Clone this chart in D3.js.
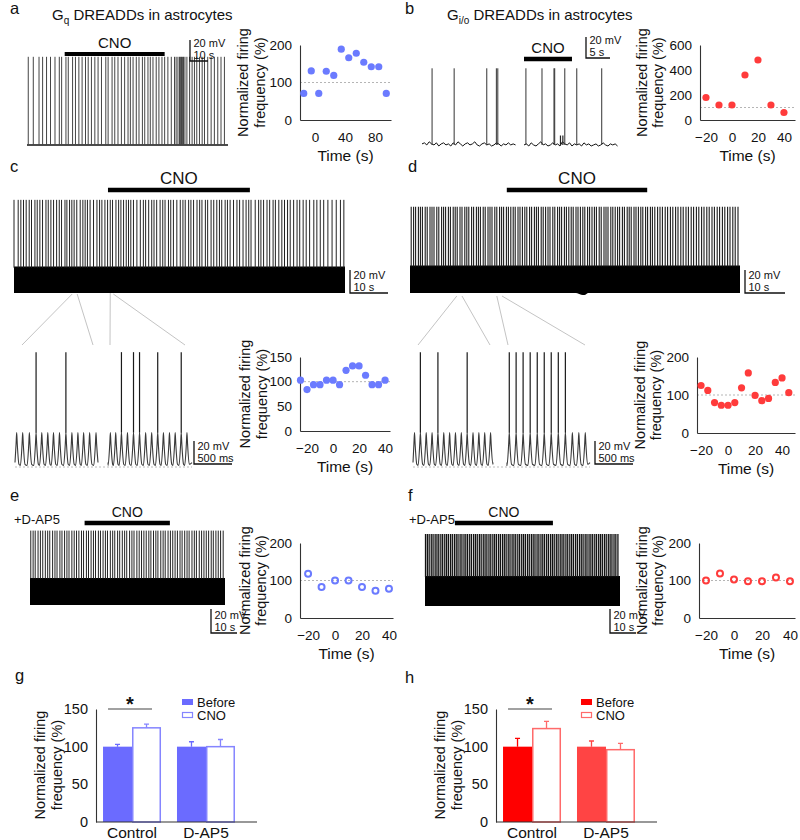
<!DOCTYPE html>
<html><head><meta charset="utf-8">
<script src="https://cdn.jsdelivr.net/npm/d3@7"></script>
<style>body{margin:0;background:#fff} text{font-family:"Liberation Sans",Arial,sans-serif;fill:#111}</style>
</head><body><script>
// ===================== DATA =====================
// scatter panels: time (s) and normalized firing frequency (%)
const aTimes = [-15,-5,5,15,25,35,45,55,65,75,85,95];
const aFreq  = [71,131,71,130,119,189,166,178,154,142,142,71];
const bTimes = [-20,-10,0,10,20,30,40];
const bFreq  = [180,120,120,360,480,120,60];
const cTimes = [-25,-20,-15,-10,-5,0,5,10,15,20,25,30,35,40];
const cFreq  = [103,84,94,94,103,103,94,123,132,132,113,94,94,103];
const dTimes = [-20,-15,-10,-5,0,5,10,15,20,25,30,35,40,45];
const dFreq  = [125,112,80,73,73,80,119,158,99,85,91,133,145,106];
const eTimes = [-20,-10,0,10,20,30,40];
const eFreq  = [118,83,100,100,83,73,78];
const fTimes = [-20,-10,0,10,20,30,40];
const fFreq  = [100,119,103,98,98,108,98];

// bar panels
const barCats = ["Control","D-AP5"];
const barKeys = ["Before","CNO"];
const gBefore = [100,100], gBeforeErr = [3,6.5];
const gCNO    = [125,100], gCNOErr    = [5,9.5];
const hBefore = [100,100], hBeforeErr = [11,7.5];
const hCNO    = [124,96],  hCNOErr    = [9.5,8.5];

// traces: spike times (s)
const aSpikes = [0.7,3.5,6.7,8.7,10.9,13.1,15.6,18.0,19.3,21.7,23.0,25.4,27.0,28.9,30.7,32.6,34.1,35.9,37.8,39.6,41.5,43.9,45.2,47.4,48.9,50.7,52.6,54.4,56.3,57.6,59.1,60.9,62.4,64.3,65.6,67.4,68.7,70.2,72.0,73.5,75.2,76.7,78.5,80.4,82.2,83.1,84.1,85.0,85.6,86.1,86.7,87.2,88.0,89.1,90.6,92.0,93.3,94.6,96.1,97.6,98.9,100.7,102.6,104.4,106.3,108.1,110.0];
const bSpikes1 = [2.1,6.7,13.5,15.5,15.8];
const bSpikes2 = [0.4,3.75,6.25,6.4,8.5,11.0,16.2];
const bSmall2 = [7.6,8.1];
const bNoise1 = [2,3,1,4,2,1,3,0,2,3,1,2,0,3,1,4,2,0,2,3,1,2,4,1,0,2,3,1,2,0,1,3,2,0,2,1,3,1,2,1];
const bNoise2 = [1,2,0,3,1,0,2,4,1,2,0,1,3,1,2,0,4,2,1,3,0,2,1,2,0,3,1,2,0,1,2,0,1,3,1,0,2,1,2,0];
const cSpikes = [0,1.1,1.8,2.5,3.2,4.0,4.6,5.5,6.1,6.8,7.5,8.4,9.0,9.7,10.4,11.2,11.9,12.5,13.4,13.9,14.6,15.2,15.8,16.5,17.4,18.1,18.7,19.3,20.0,20.9,21.8,22.5,23.1,23.9,24.6,25.3,25.9,26.8,27.5,28.1,28.8,29.5,30.1,30.7,31.4,32.3,33.2,34.0,34.6,35.4,36.2,36.8,37.5,38.4,39.1,39.7,40.6,41.2,41.9,42.8,43.7,44.4,45.0,45.9,46.5,47.2,48.1,48.8,49.4,50.3,50.9,51.8,52.5,53.3,54.0,54.6,55.5,56.1,56.8,57.7,58.6,59.3,60.2,61.0,61.7,62.3,63.4,64.3,64.9,65.6,66.5,67.2,68.1,68.7,69.6,70.4,71.1,71.9,72.6,73.5,74.4,75.1,76.0,76.8,77.7,78.8,79.6,80.5,81.4,82.5,83.6,84.7,85.8,86.7];
const dSpikes = [0.3,0.9,1.4,2.1,2.6,3.1,3.8,4.3,5.0,5.5,6.0,6.7,7.2,7.9,8.4,8.9,9.6,10.1,10.8,11.3,11.8,12.5,13.0,13.7,14.2,14.7,15.4,15.9,16.6,17.1,17.6,18.3,18.8,19.5,20.0,20.5,21.2,21.7,22.4,22.9,23.4,24.1,24.6,25.2,25.8,26.3,27.0,27.5,28.1,28.7,29.2,29.9,30.4,31.1,31.6,32.1,32.8,33.3,33.9,34.5,35.0,35.7,36.2,36.9,37.4,37.9,38.6,39.1,39.7,40.3,40.8,41.5,42.0,42.6,43.2,43.7,44.4,44.9,45.5,46.1,46.6,47.3,47.8,48.5,49.0,49.5,50.2,50.7,51.3,51.9,52.4,53.1,53.6,54.3,54.8,55.3,56.0,56.5,57.1,57.7,58.2,58.9,59.4,60.1,60.6,61.2,61.9,62.5,63.1,63.8,64.4,65.1,65.7,66.4,67.0,67.7,68.3,69.0,69.6,70.3,70.9,71.6,72.2,72.9,73.5,74.2,74.8,75.5,76.1,76.8,77.4,78.1,78.7,79.4,80.0,80.7,81.3,82.0];
const dBandLow = [[0,0],[41.5,0],[42.8,-1.5],[43.6,-1.8],[44.6,0],[82.5,0]];
const eSpikes = [0.3,1.2,2.0,3.1,4.0,4.9,5.9,6.8,7.6,8.7,9.6,10.4,11.5,12.3,13.3,14.2,15.0,16.1,17.0,17.9,18.8,19.8,20.6,21.7,22.5,23.5,24.4,25.2,26.3,27.1,28.1,29.0,29.8,30.9,31.8,32.6,33.7,34.5,35.5,36.4,37.2,38.3,39.2,40.0,41.1,42.0,42.9,43.8,44.7,45.7,46.5,47.5,48.4,49.2,50.3,51.2,52.0,53.1,54.0,54.9,55.8,56.7,57.7,58.5,59.5,60.4,61.2,62.3,63.2,64.0,65.1,66.0,66.9,67.8,68.7,69.7,70.5,71.5,72.4,73.3,74.3];
const fSpikes = [0.2,0.9,1.6,2.4,3.1,3.9,4.6,5.3,6.1,6.8,7.6,8.3,9.0,9.8,10.5,11.3,12.0,12.7,13.5,14.2,15.0,15.7,16.4,17.2,17.9,18.7,19.4,20.1,20.9,21.6,22.4,23.1,23.8,24.6,25.3,26.1,26.8,27.5,28.3,29.0,29.8,30.5,31.2,32.0,32.7,33.5,34.2,34.9,35.7,36.4,37.2,37.9,38.6,39.4,40.1,40.9,41.6,42.3,43.1,43.8,44.6,45.3,46.0,46.8,47.5,48.3,49.0,49.7,50.5,51.2,52.0,52.7,53.4,54.2,54.9,55.7,56.4,57.1,57.9,58.6,59.4,60.1,60.8,61.6,62.3,63.1,63.8,64.5,65.3,66.0,66.8,67.5,68.2,69.0,69.7,70.5,71.2,71.9,72.7,73.4,74.2];

// expanded sub-traces: oscillation peak times (ms) and which peaks fire a spike
const cSub1Peaks = [22,101,189,277,352,431,506,585,669,748,827,902,981,1065];
const cSub1Spk   = [277,669];
const cSub2Peaks = [31,101,176,255,334,413,493,572,651,726,805,880,959,1034];
const cSub2Spk   = [176,334,413,651,959];
const dSub1Peaks = [20,97,174,251,328,405,482,559,636,713,790,867,944,1021];
const dSub1Spk   = [97,328,713];
const dSub2Peaks = [30,120,212,305,398,490,582,675,768,860,945,1030];
const dSub2Spk   = [30,120,212,305,398,490,582,675,768];

// tick labels
const aXT=[0,40,80], aYT=[0,100,200];
const bXT=[-20,0,20,40], bYT=[0,200,400,600];
const cXT=[-20,0,20,40], cYT=[0,50,100,150];
const dXT=[-20,0,20,40], dYT=[0,100,200];
const eXT=[-20,0,20,40], eYT=[0,100,200];
const fXT=[-20,0,20,40], fYT=[0,100,200];
const barYT=[0,50,100,150];

// ===================== DRAW =====================
const BLUE="#6b7bff", RED="#ff3b3b";
const svg=d3.select("body").append("svg").attr("width",800).attr("height",840);

function txt(x,y,s,size,anchor){
  return svg.append("text").attr("x",x).attr("y",y).attr("font-size",size).attr("text-anchor",anchor||"start").text(s);
}
function ylab(x1,x2,cy,size){
  txt(0,0,"Normalized firing",size,"middle").attr("transform",`translate(${x1},${cy}) rotate(-90)`);
  txt(0,0,"frequency (%)",size,"middle").attr("transform",`translate(${x2},${cy}) rotate(-90)`);
}
function styleAxis(g,size){
  g.select(".domain").attr("stroke","#333").attr("stroke-width",1.1);
  g.selectAll("text").attr("font-size",size).attr("font-family","Liberation Sans, Arial, sans-serif").attr("fill","#111");
}

function scatter(p){
  const x=d3.scaleLinear().domain(p.xd).range([p.ax0,p.ax1]);
  const y=d3.scaleLinear().domain(p.yd).range([p.yb,p.yt]);
  svg.append("line").attr("x1",p.ax0).attr("x2",p.ax1).attr("y1",y(100)).attr("y2",y(100))
    .attr("stroke","#b5b5b5").attr("stroke-width",1).attr("stroke-dasharray","2,2");
  const xa=svg.append("g").attr("transform",`translate(0,${p.yb})`)
    .call(d3.axisBottom(x).tickValues(p.xt).tickSize(0).tickPadding(12).tickFormat(d3.format("d")));
  styleAxis(xa,13.5);
  const ya=svg.append("g").attr("transform",`translate(${p.ax0},0)`)
    .call(d3.axisLeft(y).tickValues(p.yt2).tickSize(0).tickPadding(8));
  styleAxis(ya,13.5);
  svg.append("g").selectAll("circle").data(p.t.map((t,i)=>[t,p.v[i]])).join("circle")
    .attr("cx",d=>x(d[0])).attr("cy",d=>y(d[1])).attr("r",p.open?3:3.6)
    .attr("fill",p.open?"none":p.color).attr("stroke",p.open?p.color:"none").attr("stroke-width",2);
  ylab(p.lx1,p.lx2,(p.yb+p.yt)/2,14.5);
  txt((p.ax0+p.ax1)/2,p.yb+41,"Time (s)",15.5,"middle");
}

scatter({t:aTimes,v:aFreq,xd:[-20,101.3],ax0:300,ax1:391,yd:[0,200],yb:120,yt:45,xt:aXT,yt2:aYT,color:BLUE,lx1:248,lx2:265});
scatter({t:bTimes,v:bFreq,xd:[-24.6,48.5],ax0:700,ax1:795,yd:[0,600],yb:120,yt:45,xt:bXT,yt2:bYT,color:RED,lx1:647,lx2:663});
scatter({t:cTimes,v:cFreq,xd:[-25.4,43.8],ax0:300,ax1:390,yd:[0,150],yb:431,yt:357,xt:cXT,yt2:cYT,color:BLUE,lx1:250,lx2:267});
scatter({t:dTimes,v:dFreq,xd:[-23,49.6],ax0:697,ax1:795,yd:[0,200],yb:433,yt:357,xt:dXT,yt2:dYT,color:RED,lx1:645,lx2:661});
scatter({t:eTimes,v:eFreq,xd:[-26,43],ax0:300,ax1:393,yd:[0,200],yb:618,yt:543,xt:eXT,yt2:eYT,color:BLUE,open:true,lx1:250,lx2:266});
scatter({t:fTimes,v:fFreq,xd:[-25,43.6],ax0:699,ax1:795,yd:[0,200],yb:618,yt:543,xt:fXT,yt2:fYT,color:RED,open:true,lx1:647,lx2:663});

// ---------- traces ----------
function scaleBar(cx,cy,ySc,xSc,mv,tUnit,tLabel){
  const h=Math.abs(ySc(mv)-ySc(0)), w=Math.abs(xSc(tUnit)-xSc(0));
  svg.append("path").attr("d",`M${cx},${cy-h}V${cy}H${cx+w}`).attr("fill","none").attr("stroke","#111").attr("stroke-width",1.3);
  txt(cx+3.5,cy-14.5,mv+" mV",11);
  txt(cx+3.5,cy-2,tLabel,11);
}
function cnoBar(xS,t0,t1,y,th,ty,size){
  svg.append("line").attr("x1",xS(t0)).attr("x2",xS(t1)).attr("y1",y).attr("y2",y).attr("stroke","#000").attr("stroke-width",th);
  txt((xS(t0)+xS(t1))/2,ty,"CNO",size,"middle");
}
function spikes(xS,yS,times,from,to,color,w){
  svg.append("g").selectAll("line").data(times).join("line")
    .attr("x1",d=>xS(d)).attr("x2",d=>xS(d)).attr("y1",yS(from)).attr("y2",yS(to))
    .attr("stroke",color||"#333").attr("stroke-width",w||0.9);
}
function band(xS,yS,hi,low){
  const pts = low || [[xS.domain()[0],0],[xS.domain()[1],0]];
  const area=d3.area().x(d=>xS(d[0])).y0(d=>yS(d[1])).y1(d=>yS(hi)).curve(d3.curveMonotoneX);
  svg.append("path").attr("d",area(pts)).attr("fill","#000");
}

// a
{
  const x=d3.scaleLinear().domain([0,112]).range([27,228]);
  const y=d3.scaleLinear().domain([0,1]).range([145,145-1.05]);
  svg.append("line").attr("x1",27).attr("x2",228).attr("y1",145).attr("y2",145).attr("stroke","#111").attr("stroke-width",1.4);
  spikes(x,y,aSpikes,0,84,"#444",1);
  cnoBar(x,21,76.7,54,4,48,15);
  scaleBar(190,61,y,x,20,10,"10 s");
}
// b
{
  const y=d3.scaleLinear().domain([0,1]).range([146,146-1.05]);
  const segs=[[bSpikes1,bNoise1,[],[422,517]],[bSpikes2,bNoise2,bSmall2,[524,619]]];
  segs.forEach((s,i)=>{
    const x=d3.scaleLinear().domain([0,19.8]).range(s[3]);
    const line=d3.line().x(d=>x(d[0])).y(d=>y(d[1]));
    svg.append("path").attr("d",line(s[1].map((v,k)=>[k*0.5,v]))).attr("fill","none").attr("stroke","#111").attr("stroke-width",1);
    spikes(x,y,s[0],1,74,"#333",1);
    spikes(x,y,s[2],1,10,"#222",1.2);
    if(i===1){ cnoBar(x,0,10,59,4.5,53,15); }
  });
  const xs=d3.scaleLinear().domain([0,19.8]).range([524,619]);
  scaleBar(586,58,y,xs,20,5,"5 s");
}
// c
let cX, dX;
{
  const x=d3.scaleLinear().domain([0,87]).range([14,345]); cX=x;
  const y=d3.scaleLinear().domain([0,1]).range([293,293-1.15]);
  band(x,y,23);
  spikes(x,y,cSpikes,22,81,"#222",1);
  cnoBar(x,24.7,62,190,4.5,184,17);
  const xs=d3.scaleLinear().domain([0,10]).range([0,38]);
  scaleBar(350,293,y,xs,20,10,"10 s");
}
// d
{
  const x=d3.scaleLinear().domain([0,82.5]).range([410,740]); dX=x;
  const y=d3.scaleLinear().domain([0,1]).range([293,293-1.15]);
  band(x,y,24,dBandLow);
  spikes(x,y,dSpikes,23,75,"#1a1a1a",1.1);
  cnoBar(x,24.2,59.3,190,4.5,184,17);
  const xs=d3.scaleLinear().domain([0,10]).range([0,40]);
  scaleBar(745,293,y,xs,20,10,"10 s");
}
// e
{
  const x=d3.scaleLinear().domain([0,75]).range([30,225]);
  const y=d3.scaleLinear().domain([0,1]).range([605,605-1.2]);
  band(x,y,22.5);
  spikes(x,y,eSpikes,22,62,"#222",1);
  cnoBar(x,21,53.8,523,4.5,517,14);
  scaleBar(211,633,y,x,20,10,"10 s");
  txt(14,524,"+D-AP5",13);
}
// f
{
  const x=d3.scaleLinear().domain([0,75]).range([425,620]);
  const y=d3.scaleLinear().domain([0,1]).range([606,606-1.2]);
  band(x,y,25);
  spikes(x,y,fSpikes,24,60,"#111",1.3);
  cnoBar(x,11.5,49.2,523,4.5,517,14);
  scaleBar(610,633,y,x,20,10,"10 s");
  txt(409,524,"+D-AP5",13);
}

// ---------- expanded sub-traces ----------
function subTrace(peaks,spk,len,xr,base){
  const x=d3.scaleLinear().domain([0,len]).range(xr);
  const y=d3.scaleLinear().domain([0,1]).range([base,base-1.15]);
  let pts=[[0,3]];
  peaks.forEach(p=>pts.push([p-30,0.5],[p-8,19],[p,29],[p+8,19],[p+30,1.5]));
  pts.push([len,3]);
  pts=pts.filter(d=>d[0]>=0&&d[0]<=len).sort((a,b)=>a[0]-b[0]);
  svg.append("path").attr("d",d3.line().x(d=>x(d[0])).y(d=>y(d[1])).curve(d3.curveMonotoneX)(pts))
    .attr("fill","none").attr("stroke","#3a3a3a").attr("stroke-width",1.1);
  spikes(x,y,spk,29,99,"#1a1a1a",1.2);
  return {x,y};
}
{
  const s1=subTrace(cSub1Peaks,cSub1Spk,1091,[15,98],466);
  subTrace(cSub2Peaks,cSub2Spk,1100,[108,192],466);
  svg.append("line").attr("x1",15).attr("x2",192).attr("y1",467).attr("y2",467).attr("stroke","#bbb").attr("stroke-dasharray","2,2");
  const xs=d3.scaleLinear().domain([0,500]).range([0,38]);
  scaleBar(194,464,s1.y,xs,20,500,"500 ms");
  const s3=subTrace(dSub1Peaks,dSub1Spk,1053,[413,493],466);
  subTrace(dSub2Peaks,dSub2Spk,1092,[507,590],466);
  svg.append("line").attr("x1",413).attr("x2",590).attr("y1",467).attr("y2",467).attr("stroke","#bbb").attr("stroke-dasharray","2,2");
  scaleBar(595,464,s3.y,xs,20,500,"500 ms");
  // zoom guide lines
  const guides=[[cX(15.3),294,22,345],[cX(16.6),294,93,345],[cX(25.3),293,110,345],[cX(26.1),294,185,345],
                [dX(11.7),296,418,345],[dX(13.0),296,490,345],[dX(21.7),296,508,345],[dX(23.0),296,585,345]];
  svg.append("g").selectAll("line").data(guides).join("line")
    .attr("x1",d=>d[0]).attr("y1",d=>d[1]).attr("x2",d=>d[2]).attr("y2",d=>d[3]).attr("stroke","#c4c4c4").attr("stroke-width",1);
}

// ---------- bars ----------
function barPanel(p){
  const x0=d3.scaleBand().domain(barCats).range([p.ax0,p.ax0+146]).paddingInner(0.216).paddingOuter(0.095);
  const x1=d3.scaleBand().domain(barKeys).range([0,x0.bandwidth()]);
  const y=d3.scaleLinear().domain([0,150]).range([822,709]);
  const ya=svg.append("g").attr("transform",`translate(${p.ax0},0)`).call(d3.axisLeft(y).tickValues(barYT).tickSize(0).tickPadding(8));
  styleAxis(ya,14.5);
  barCats.forEach((c,i)=>{
    const xb=x0(c)+x1("Before"), xc=x0(c)+x1("CNO"), w=x1.bandwidth();
    const fb=p.beforeFill[i];
    svg.append("rect").attr("x",xb).attr("y",y(p.before[i])).attr("width",w).attr("height",822-y(p.before[i])).attr("fill",fb);
    svg.append("rect").attr("x",xc+0.75).attr("y",y(p.cno[i])).attr("width",w-1.5).attr("height",822-y(p.cno[i])).attr("fill","#fff").attr("stroke",p.cnoStroke).attr("stroke-width",1.5);
    [[xb+w/2,p.before[i],p.beforeErr[i],fb],[xc+w/2,p.cno[i],p.cnoErr[i],p.cnoStroke]].forEach(e=>{
      svg.append("path").attr("d",`M${e[0]},${y(e[1])}V${y(e[1]+e[2])}M${e[0]-2.5},${y(e[1]+e[2])}H${e[0]+2.5}`)
        .attr("stroke",e[3]).attr("stroke-width",1.3).attr("fill","none");
    });
    txt(x0(c)+x0.bandwidth()/2,838,c,15.5,"middle");
  });
  svg.append("line").attr("x1",p.ax0).attr("x2",p.ax0+161).attr("y1",822).attr("y2",822).attr("stroke","#333").attr("stroke-width",1.1);
  // significance
  const c0=x0("Control");
  svg.append("line").attr("x1",c0+5).attr("x2",c0+x0.bandwidth()-9).attr("y1",709).attr("y2",709).attr("stroke","#444").attr("stroke-width",1.2);
  txt(c0+x0.bandwidth()/2-2,711,"*",20,"middle").attr("font-weight","bold");
  // legend
  svg.append("rect").attr("x",p.lx).attr("y",699).attr("width",11).attr("height",6).attr("fill",p.beforeFill[0]);
  svg.append("rect").attr("x",p.lx+0.5).attr("y",712.5).attr("width",10).attr("height",5).attr("fill","#fff").attr("stroke",p.cnoStroke).attr("stroke-width",1.2);
  txt(p.lx+15,706.5,"Before",13);
  txt(p.lx+15,720,"CNO",13);
  ylab(p.lab1,p.lab2,765,14.5);
}
barPanel({ax0:96,before:gBefore,beforeErr:gBeforeErr,cno:gCNO,cnoErr:gCNOErr,beforeFill:["#6b6bff","#6b6bff"],cnoStroke:"#8585ff",lx:182,lab1:45,lab2:62});
barPanel({ax0:496,before:hBefore,beforeErr:hBeforeErr,cno:hCNO,cnoErr:hCNOErr,beforeFill:["#ff0000","#ff4444"],cnoStroke:"#ff6a6a",lx:581,lab1:445,lab2:462});

// ---------- titles & panel letters ----------
function title(x,y,sub){
  const t=txt(x,y,"",15);
  t.append("tspan").text("G");
  t.append("tspan").attr("font-size",10).attr("dy",4).text(sub);
  t.append("tspan").attr("dy",-4).text(" DREADDs in astrocytes");
}
title(52,20,"q");
title(447,20,"i/o");
[["a",10,14],["b",405,14],["c",10,172],["d",408,172],["e",10,501],["f",408,501],["g",15,681],["h",405,683]]
  .forEach(d=>txt(d[1],d[2],d[0],16.5));
</script></body></html>
